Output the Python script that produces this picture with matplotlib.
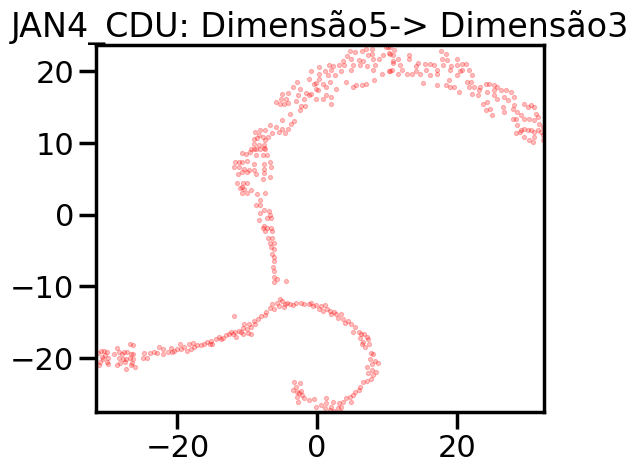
import numpy as np
import matplotlib
matplotlib.use('Agg')
import matplotlib.pyplot as plt
import seaborn as sns

TITLE = "JAN4_CDU: Dimensão5-> Dimensão3"

# upper arc (Dimensão5, Dimensão3)
arc_x = [4.7, 5.5, 6.4, 7.0, 7.9, 9.9, 10.4, 4.3, 4.9, 6.0, 6.6, 7.3, 7.9, 8.8, 9.5, 10.3,
         10.9, 8.0, 3.7, 3.1, 3.9, 5.1, 6.1, 7.1, 8.3, 10.9, 2.3, 1.7, 1.2, 2.0, 3.5, 4.8,
         8.0, 9.3, 10.3, 10.7, -0.9, 0.3, 0.3, 1.5, 2.6, -1.1, 0.3, -0.4, -0.1, 0.8, 1.8,
         4.2, 5.1, 5.6, 6.4, 7.0, 8.1, -2.9, -3.5, -2.5, -1.6, -0.9, -0.1, 0.1, 1.3, 2.7,
         -4.2, -5.0, -2.7, -1.1, -0.1, 1.3, 2.0, -5.2, -4.5, -3.0, -1.8, 0.9, -5.9, -5.3,
         -4.7, -4.1, -2.3, -1.7, 2.0, -2.4, -3.9, -5.0, -3.3, -3.8, -4.2, -5.9, -5.0, -6.7,
         -7.5, -8.1, -8.9, -8.3, -7.7, -7.0, -6.4, -5.5, -4.6, -9.0, -8.6, -7.5, -9.0, -8.3,
         -7.6, -9.4, -8.7, -7.5,
         10.2, 11.0, 10.5, 11.6, 10.9, 11.9, 13.1, 13.1, 10.5, 11.6, 12.2, 12.9, 13.6, 14.1,
         14.5, 14.2, 14.8, 15.2, 15.5, 15.6, 16.2, 16.7, 17.2, 16.2, 17.2, 17.7, 18.4, 17.9,
         18.6, 18.1, 19.2, 19.1, 20.0, 20.1, 20.8, 21.3, 20.5, 20.0, 20.8, 21.7, 22.2, 17.2,
         18.4, 18.9, 19.1, 19.6, 20.3, 21.5, 22.0, 21.7, 22.5, 23.2, 23.4, 22.2, 23.0, 24.2,
         24.6, 25.4, 24.4, 25.3, 25.8, 26.3, 27.0, 27.8, 25.4, 25.8, 26.8, 27.3, 28.2, 23.7,
         24.4, 24.8, 24.2, 25.1, 26.6, 26.8, 28.0, 28.2, 28.7, 29.7, 30.2, 30.6, 31.1, 31.4,
         29.2, 28.5, 28.0, 29.7, 30.4, 31.1, 31.6, 31.8, 32.3, 28.7, 29.2, 29.0, 29.7, 30.2,
         30.6, 31.1, 31.6, 32.1, 28.5, 29.7, 30.4, 31.1, 32.3, 32.3, 30.9]
arc_y = [22.8, 22.7, 22.8, 23.2, 23.2, 23.4, 23.4, 22.1, 21.7, 21.6, 21.4, 22.3, 22.5, 21.7,
         22.3, 22.6, 22.3, 21.8, 21.4, 20.9, 20.9, 20.9, 20.9, 20.8, 20.9, 21.4, 20.7, 20.9,
         20.0, 20.2, 20.1, 20.2, 20.2, 19.6, 20.0, 20.2, 20.0, 20.6, 19.7, 19.5, 19.5, 19.0,
         19.0, 18.3, 18.4, 18.3, 18.6, 18.6, 17.9, 18.1, 18.1, 18.3, 18.8, 18.6, 17.9, 17.5,
         17.0, 16.9, 17.6, 17.4, 17.9, 17.5, 17.0, 16.9, 16.7, 16.7, 16.2, 16.7, 16.4, 16.2,
         16.1, 15.9, 16.1, 16.1, 15.7, 15.5, 15.4, 15.6, 15.2, 15.2, 15.5, 14.6, 14.1, 13.2,
         13.1, 12.7, 12.0, 12.2, 12.0, 12.6, 11.9, 11.8, 11.6, 11.2, 10.9, 10.8, 11.4, 11.5,
         11.4, 10.6, 10.7, 10.5, 9.9, 9.8, 9.7, 9.2, 9.2, 9.2,
         23.4, 23.0, 22.4, 21.8, 21.2, 20.9, 22.3, 21.7, 20.1, 19.7, 20.2, 19.7, 19.7, 20.7,
         21.2, 20.1, 19.7, 18.4, 21.0, 20.2, 21.0, 20.9, 20.2, 19.5, 19.7, 22.8, 22.5, 21.8,
         21.6, 20.9, 20.8, 20.2, 21.8, 20.9, 21.1, 21.1, 20.0, 19.5, 20.2, 20.2, 19.5, 18.1,
         18.1, 18.8, 17.9, 17.8, 17.2, 18.6, 18.6, 17.9, 17.9, 17.4, 17.9, 16.9, 16.7, 18.3,
         18.3, 18.1, 17.2, 17.4, 17.9, 17.4, 17.4, 17.2, 16.7, 16.2, 16.5, 16.0, 16.5, 15.5,
         15.8, 14.8, 14.6, 13.9, 15.1, 14.4, 14.8, 15.3, 14.4, 15.5, 15.1, 15.3, 15.1, 14.1,
         13.9, 13.4, 13.3, 13.4, 13.4, 13.2, 13.7, 12.7, 12.3, 12.5, 11.8, 11.6, 12.0, 11.8,
         11.8, 11.6, 11.8, 11.6, 11.4, 10.9, 10.5, 10.9, 11.1, 10.4, 10.2]

# vertical stem
stem_x = [-10.7, -10.2, -9.6, -9.0, -8.2, -7.6, -8.8, -7.8, -7.1, -11.7, -11.2, -10.7, -10.0,
          -9.0, -7.6, -6.7, -11.9, -11.2, -10.5, -9.8, -9.0, -7.6, -6.6, -11.3, -10.7, -10.1,
          -8.8, -7.6, -6.7, -7.8, -11.4, -10.6, -10.1, -11.1, -10.7, -10.4, -10.7, -10.0, -9.4,
          -8.6, -7.5, -8.2, -8.7, -8.2, -7.6, -8.1, -6.9, -6.7, -7.1, -8.3, -6.6, -7.6, -7.1,
          -6.6, -7.8, -7.4, -6.5, -7.0, -6.5, -6.7, -6.2, -6.6, -6.2, -6.4, -6.2, -6.2, -6.3,
          -6.1, -6.1, -5.7, -6.1, -4.5]
stem_y = [8.6, 8.5, 8.7, 9.2, 9.2, 9.3, 8.3, 8.3, 8.3, 7.3, 7.3, 7.3, 7.5, 7.1, 7.1, 7.3, 6.6,
          6.6, 6.4, 6.2, 6.2, 6.4, 6.7, 5.7, 5.9, 5.9, 5.7, 5.8, 5.3, 5.0, 4.4, 4.4, 4.5, 3.8,
          3.9, 3.6, 3.1, 3.1, 3.5, 2.9, 3.0, 2.1, 1.3, 1.3, 0.6, 0.3, 0.5, -0.1, -0.4, -0.7,
          -0.5, -1.5, -1.8, -1.8, -1.9, -2.2, -2.2, -3.2, -3.3, -4.0, -3.9, -4.5, -4.8, -5.5,
          -5.9, -6.5, -7.3, -7.9, -8.7, -9.0, -9.4, -9.3]

# lower-left tail
tail_x = [-31.3, -31.0, -30.5, -30.1, -30.8, -30.3, -29.9, -31.1, -30.6, -30.1, -31.2, -29.9,
          -29.1, -28.7, -28.3, -27.9, -27.6, -27.2, -26.8, -26.4, -26.7, -26.4, -28.4, -27.8,
          -27.3, -26.8, -26.4, -28.2, -27.5, -26.5, -28.6, -26.0, -27.3, -26.7, -24.8, -24.9,
          -24.3, -23.9, -23.4, -22.6, -22.9, -22.0, -22.0, -21.4, -20.9, -20.5, -20.0, -19.5,
          -20.7, -19.6, -19.0, -18.6, -18.1, -17.6, -18.3, -17.8, -17.2, -16.6, -16.2, -15.7,
          -15.2, -15.0, -15.4, -14.5, -14.1, -13.8, -13.4, -13.0, -12.6, -12.1, -11.6, -12.3,
          -11.8, -11.2, -10.9, -10.6, -10.1, -9.7, -10.4, -10.6, -9.9, -9.5, -9.4, -8.9, -9.0,
          -8.5, -8.0, -7.4, -7.3, -6.8, -11.9]
tail_y = [-19.3, -19.0, -19.0, -19.2, -19.8, -19.6, -20.0, -20.5, -20.2, -20.6, -21.0, -20.9,
          -19.4, -18.6, -19.2, -19.5, -19.2, -19.1, -18.0, -18.2, -19.5, -19.5, -20.0, -20.2,
          -20.2, -20.0, -20.2, -20.7, -20.6, -20.7, -21.0, -21.3, -21.5, -21.0, -19.3, -20.0,
          -20.0, -19.3, -19.1, -18.5, -19.3, -19.4, -18.7, -19.1, -18.6, -19.0, -18.7, -18.8,
          -19.2, -18.1, -18.5, -19.0, -18.7, -18.5, -18.1, -17.9, -18.2, -18.2, -18.0, -17.7,
          -17.6, -18.1, -18.1, -17.4, -17.1, -17.4, -17.2, -16.8, -16.7, -16.6, -17.1, -16.3,
          -16.3, -16.2, -16.4, -15.8, -15.9, -15.3, -15.3, -16.7, -16.5, -16.7, -15.7, -15.3,
          -14.8, -14.6, -14.2, -14.0, -13.6, -13.0, -14.2]

# spiral
spiral_x = [-6.4, -6.1, -5.8, -5.3, -5.0, -4.6, -4.3, -4.8, -5.4, -3.9, -3.5, -3.0, -2.3, -1.9,
            -1.1, -0.6, -0.9, -0.1, 0.5, 1.1, 0.3, 0.8, 1.4, 1.8, 2.0, 2.4, 2.7, 3.5, 3.0, 3.7,
            4.0, 4.5, 4.9, 5.4, 5.2, 6.0, 6.3, 6.7, 7.1, 6.1, 6.6, 7.3, 6.4, 7.5, 6.8, 7.7, 8.0,
            8.3, 7.6, 7.8, 8.7, 7.1, 7.8, 8.5, 7.3, 8.0, 7.7, 7.1, 6.6, 6.1, 6.0, 5.4, 5.2, 4.7,
            4.2, 4.9, 3.7, 3.2, 3.5, 3.0, 2.3, 2.0, 1.3, 1.1, 0.6, -0.1, 1.8, 2.4, 3.5, 1.5, 2.7,
            1.3, -0.5, -1.1, -1.8, -2.7, -2.1, -2.6, -2.3, -2.9, -3.0, -2.4, -3.3, -2.8, -3.4]
spiral_y = [-12.5, -13.2, -12.3, -11.7, -12.1, -12.4, -12.3, -12.9, -12.8, -12.4, -12.6, -12.3,
            -12.3, -12.5, -12.4, -12.8, -12.3, -12.6, -12.8, -12.6, -13.2, -13.4, -13.1, -13.5,
            -13.8, -13.6, -13.9, -13.8, -14.4, -14.6, -15.1, -14.8, -15.3, -15.6, -16.3, -16.3,
            -16.7, -16.6, -17.0, -17.2, -17.7, -17.4, -18.0, -18.1, -18.4, -19.3, -19.5, -20.4,
            -20.2, -20.9, -20.7, -21.2, -21.6, -21.9, -22.1, -22.3, -22.9, -23.2, -23.3, -24.0,
            -24.5, -24.7, -25.2, -25.5, -25.6, -26.1, -26.1, -26.3, -26.8, -27.0, -26.1, -26.8,
            -26.3, -27.0, -26.6, -26.8, -27.3, -27.4, -27.5, -27.7, -27.7, -25.6, -25.7, -25.9,
            -25.6, -26.1, -25.2, -24.9, -24.6, -24.7, -24.0, -23.5, -23.3, -25.4, -24.5]

X_LIM = (-31.65, 32.5)
Y_LIM = (-27.6, 23.7)

sns.set_context("poster")

x = np.concatenate([arc_x, stem_x, tail_x, spiral_x])
y = np.concatenate([arc_y, stem_y, tail_y, spiral_y])

fig = plt.figure(figsize=(6.38, 4.75), dpi=100)
ax = fig.add_axes([0.1505, 0.1316, 0.7022, 0.7737])
ax.scatter(x, y, s=9, c='red', alpha=0.25, linewidths=0.8)
ax.set_xlim(*X_LIM)
ax.set_ylim(*Y_LIM)
ax.set_xticks([-20, 0, 20])
ax.set_yticks([-20, -10, 0, 10, 20])
ax.set_title(TITLE)

plt.savefig("out.png", dpi=100)
plt.close()
